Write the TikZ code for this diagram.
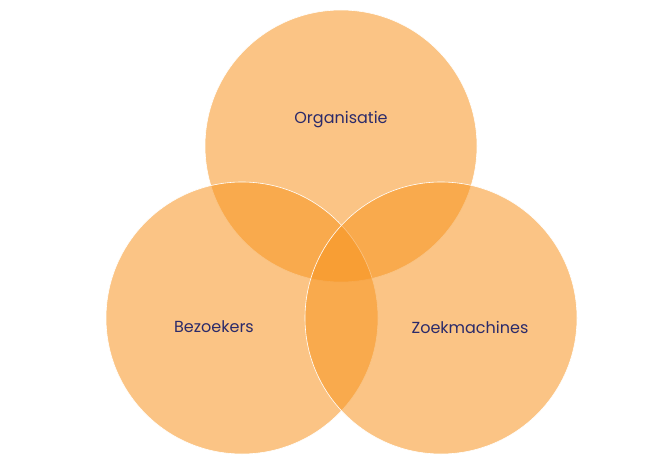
\documentclass[tikz,border=0pt]{standalone}
\usepackage{fontspec}
\setmainfont{Poppins}
\usepackage{xcolor}
\definecolor{og}{HTML}{F79420}
\definecolor{tx}{HTML}{2B2A6A}

\begin{document}
\begin{tikzpicture}[
            x = 1pt, y = -1pt, % pixel units
            set/.style = {circle, fill = og, fill opacity = 0.55, draw = white, draw opacity = 1, semithick, minimum size = 272pt, inner sep = 0pt},
            lbl/.style = {text = tx, font = \fontsize{16}{18}\selectfont}
        ]
        \useasboundingbox (0, 0) rectangle (668, 465);

        \node[set] (org) at (341, 146) {};
        \node[set] (bez) at (242, 318) {};
        \node[set] (zoek) at (441, 318) {};

        \node[lbl] (torg) at (341, 120) {Organisatie};
        \node[lbl] (tbez) at (214, 327) {Bezoekers};
        \node[lbl] (tzoek) at (470, 327) {Zoekmachines};

    \end{tikzpicture}
\end{document}
